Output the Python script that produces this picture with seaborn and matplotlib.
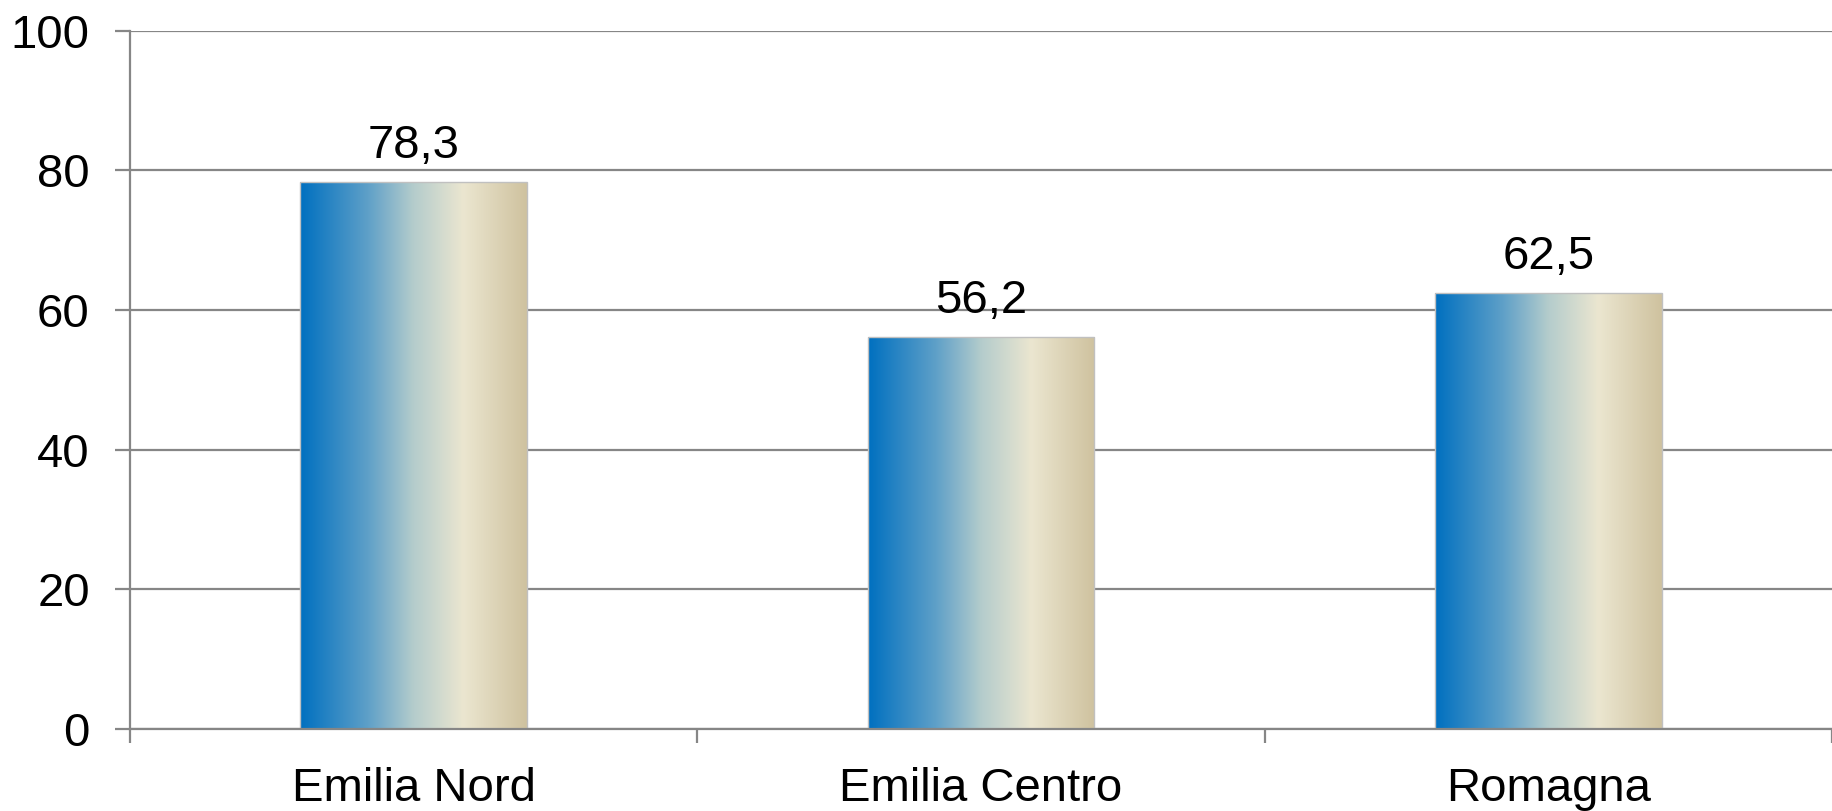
import numpy as np
import pandas as pd
import matplotlib
matplotlib.use("Agg")
import matplotlib.pyplot as plt
import seaborn as sns
from matplotlib.colors import LinearSegmentedColormap

# dati
regioni = ["Emilia Nord", "Emilia Centro", "Romagna"]
valori = [78.3, 56.2, 62.5]
etichette = ["78,3", "56,2", "62,5"]
y_ticks = [0, 20, 40, 60, 80, 100]

df = pd.DataFrame({"regione": regioni, "valore": valori})

sns.set_theme(style="white")
plt.rcParams["font.family"] = ["Liberation Sans", "DejaVu Sans"]

grigio = "#868686"
fig = plt.figure(figsize=(18.32, 8.11), dpi=100)
ax = fig.add_axes([0.071, 0.101, 0.929, 0.861])

sns.barplot(data=df, x="regione", y="valore", width=0.4, color="#0070c0", ax=ax)

# gradiente orizzontale dentro le barre
grad = LinearSegmentedColormap.from_list(
    "grad",
    [(0.0, "#0070c0"), (0.3, "#5fa0c8"), (0.5, "#b4cccc"),
     (0.72, "#ebe6d0"), (1.0, "#cfc29f")])
g = np.linspace(0, 1, 256).reshape(1, -1)
for p in ax.patches:
    x0, w, h = p.get_x(), p.get_width(), p.get_height()
    p.set_facecolor("none")
    p.set_edgecolor("#c0c0c0")
    p.set_linewidth(1.0)
    im = ax.imshow(g, cmap=grad, aspect="auto", extent=[x0, x0 + w, 0, h],
                   zorder=p.get_zorder() - 0.1)
    im.set_clip_path(p)

for p, t in zip(ax.patches, etichette):
    ax.text(p.get_x() + p.get_width() / 2, p.get_height() + 2.0, t,
            ha="center", va="bottom", fontsize=34, color="black")

ax.set_xlim(-0.5, 2.5)
ax.set_ylim(0, 100)
ax.set_yticks(y_ticks)
ax.set_yticklabels([str(v) for v in y_ticks])
ax.yaxis.grid(True, color=grigio, linewidth=1.6)
ax.set_axisbelow(True)
ax.set_xlabel("")
ax.set_ylabel("")

ax.set_xticks([-0.5, 0.5, 1.5, 2.5], minor=True)
ax.tick_params(axis="x", which="major", length=0, pad=27, labelsize=34,
               labelcolor="black")
ax.tick_params(axis="x", which="minor", length=10, width=1.6, color=grigio,
               direction="out", bottom=True)
ax.tick_params(axis="y", length=11, width=1.6, color=grigio, direction="out",
               left=True, pad=18, labelsize=34, labelcolor="black")

for s in ["top", "right"]:
    ax.spines[s].set_visible(False)
for s in ["left", "bottom"]:
    ax.spines[s].set_color(grigio)
    ax.spines[s].set_linewidth(1.6)

fig.savefig("out.png", dpi=100)
